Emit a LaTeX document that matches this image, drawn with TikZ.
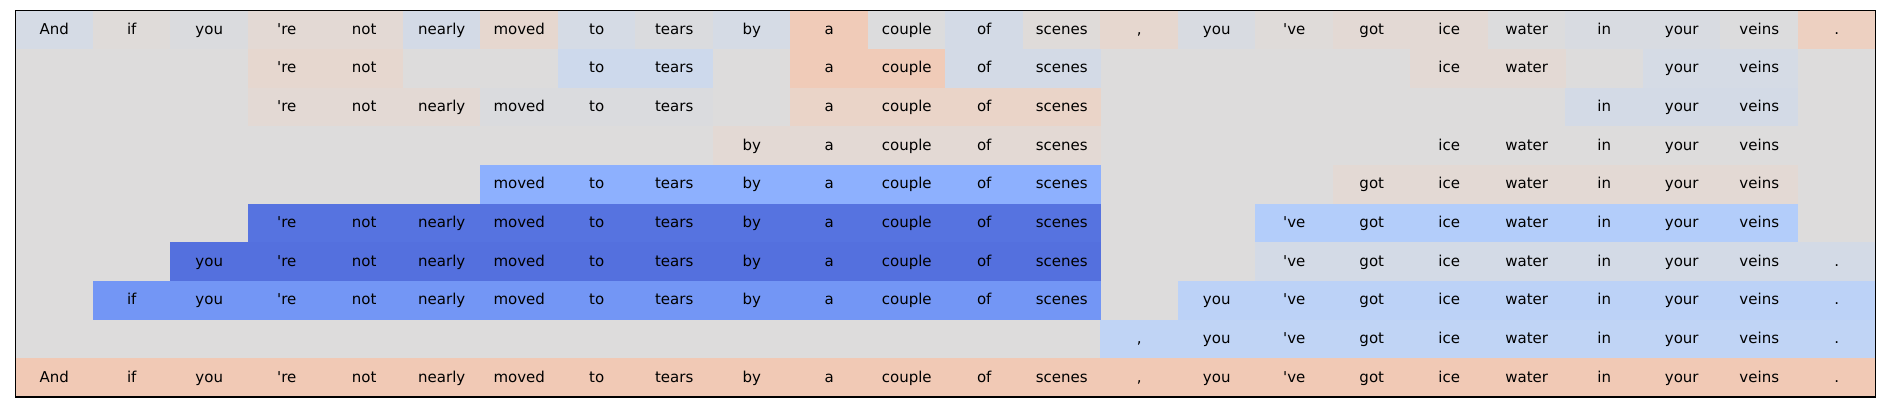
\documentclass[tikz,border=0pt]{standalone}
\usepackage{fontspec}
\setmainfont{DejaVu Sans}[Ligatures=TeXOff]
\usepackage{xcolor}
\usepackage{tikz}
% coolwarm shades
\definecolor{neutral}{HTML}{DDDCDC}
\definecolor{wA}{HTML}{DFDBD9}
\definecolor{wB}{HTML}{E3D9D4}
\definecolor{wC}{HTML}{E6D7CF}
\definecolor{wD}{HTML}{EAD4C8}
\definecolor{wE}{HTML}{EDD0C1}
\definecolor{wF}{HTML}{F0CBB8}
\definecolor{wG}{HTML}{F1C9B5}
\definecolor{kZ}{HTML}{DCDCDD}
\definecolor{kA}{HTML}{DADBDE}
\definecolor{kB}{HTML}{D8DBE1}
\definecolor{kC}{HTML}{D5DBE5}
\definecolor{kD}{HTML}{D3DAE6}
\definecolor{kE}{HTML}{CDD9EC}
\definecolor{kF}{HTML}{C0D4F5}
\definecolor{kG}{HTML}{BCD2F7}
\definecolor{kH}{HTML}{B3CDFA}
\definecolor{kI}{HTML}{8DB0FE}
\definecolor{kJ}{HTML}{7396F5}
\definecolor{kK}{HTML}{5673E0}
\definecolor{kL}{HTML}{5470DE}
\tikzset{
  cell/.style={minimum width=56pt, minimum height=28pt, inner sep=0pt, outer sep=0pt,
    text height=0.78em, text depth=0.14em, font=\fontsize{10.8}{12}\selectfont},
  frame/.style={draw=black, line width=0.8pt},
}
\foreach \c/\w in {1/And,2/if,3/you,4/'re,5/not,6/nearly,7/moved,8/to,9/tears,10/by,
  11/a,12/couple,13/of,14/scenes,15/{,},16/you,17/'ve,18/got,19/ice,20/water,
  21/in,22/your,23/veins,24/.}{\expandafter\xdef\csname tok\c\endcsname{\w}}

\begin{document}
\begin{tikzpicture}
  \def\cw{55.8pt}
  \def\ch{27.84pt}
  \useasboundingbox (-11.16pt,-289.22pt) rectangle (1345.32pt,7.42pt);
  \fill[neutral] (0,0) rectangle (24*\cw,-10*\ch);

  % first row, one shade per token
  \foreach \c/\col in {1/kC,2/wA,3/kA,4/wB,5/wB,6/kD,7/wC,8/kC,9/kA,10/kC,11/wF,12/kZ,
    13/kD,14/wA,15/wC,16/kB,17/wA,18/wB,19/wB,20/kZ,21/kB,22/kB,23/kZ,24/wE}{
    \node[cell,fill=\col] (r1c\c) at ({(\c-0.5)*\cw},{-0.5*\ch}) {\csname tok\c\endcsname};
  }
  % other rows: row/from/to/shade
  \foreach \r/\a/\b/\col in {2/4/5/wC,2/8/9/kE,2/11/12/wF,2/13/14/kD,2/19/20/wB,2/22/23/kC,
    3/4/6/wB,3/7/9/kA,3/11/14/wD,3/21/23/kD,
    4/10/14/wB,4/19/23/neutral,
    5/7/14/kI,5/18/23/wB,
    6/4/14/kK,6/17/23/kH,
    7/3/14/kL,7/17/24/kD,
    8/2/14/kJ,8/16/24/kG,
    9/15/24/kF,
    10/1/24/wG}{
    \foreach \c in {\a,...,\b}{
      \node[cell,fill=\col] (r\r c\c) at ({(\c-0.5)*\cw},{-(\r-0.5)*\ch}) {\csname tok\c\endcsname};
    }
  }
  \draw[frame] (0,0) rectangle (24*\cw,-10*\ch);
\end{tikzpicture}
\end{document}
